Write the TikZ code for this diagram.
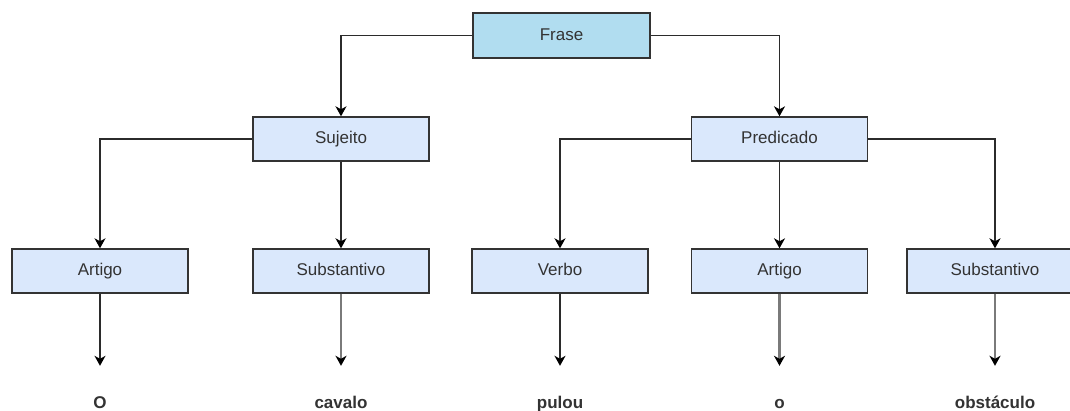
\documentclass[tikz,border=0pt]{standalone}
\usepackage{fontspec}
\setmainfont{Liberation Sans}
\usetikzlibrary{arrows.meta}
\definecolor{rootfill}{HTML}{B1DDF0}
\definecolor{boxfill}{HTML}{DAE8FC}
\definecolor{ink}{HTML}{333333}
\definecolor{wire}{HTML}{2B2B2B}
\definecolor{softwire}{HTML}{7A7A7A}
\tikzset{
  box/.style={draw=ink, line width=1.4pt, fill=boxfill, minimum width=176pt,
    minimum height=44pt, inner sep=0pt, text height=12pt, text depth=3pt,
    text=ink, font=\fontsize{17}{20}\selectfont},
  rootbox/.style={box, fill=rootfill, minimum width=177pt, minimum height=45pt},
  word/.style={inner sep=0pt, text height=12pt, text depth=3pt, anchor=base,
    text=ink, font=\fontsize{17}{20}\selectfont\bfseries},
  link/.style={draw=wire, line width=1.5pt,
    -{Stealth[length=10pt, width=11pt, inset=3pt, color=black]}},
  softlink/.style={link, draw=softwire, line width=2.2pt},
  toword/.style={shorten >=30.5pt}
}
\begin{document}
\begin{tikzpicture}[x=1pt, y=-1pt]
  \useasboundingbox[fill=white] (0,0) rectangle (1070,410);

  % sentence root
  \node[rootbox] (frase) at (561.5,35.5) {Frase};

  % main constituents
  \node[box] (sujeito)   at (341,139)   {Sujeito};
  \node[box] (predicado) at (779.5,139) {Predicado};

  % word classes
  \node[box] (artigoA)  at (100,271)   {Artigo};
  \node[box] (substA)   at (341,271)   {Substantivo};
  \node[box] (verbo)    at (560,271)   {Verbo};
  \node[box] (artigoB)  at (779.5,271) {Artigo};
  \node[box] (substB)   at (995,271)   {Substantivo};

  % the words of the sentence
  \node[word] (wO)     at (100,408.5)   {O};
  \node[word] (wcav)   at (341,408.5)   {cavalo};
  \node[word] (wpul)   at (560,408.5)   {pulou};
  \node[word] (wo)     at (779.5,408.5) {o};
  \node[word] (wobs)   at (995,408.5)   {obstáculo};

  % tree connectors
  \draw[link] (frase.west) -| (sujeito.north);
  \draw[link] (frase.east) -| (predicado.north);

  \draw[link] (sujeito.west) -| (artigoA.north);
  \draw[link] (sujeito.south) -- (substA.north);

  \draw[link] (predicado.west) -| (verbo.north);
  \draw[link] (predicado.south) -- (artigoB.north);
  \draw[link] (predicado.east) -| (substB.north);

  % leaves
  \draw[link, toword]     (artigoA.south) -- (wO.north);
  \draw[softlink, toword] (substA.south)  -- (wcav.north);
  \draw[link, toword]     (verbo.south)   -- (wpul.north);
  \draw[softlink, toword] (artigoB.south) -- (wo.north);
  \draw[softlink, toword] (substB.south)  -- (wobs.north);
\end{tikzpicture}
\end{document}
